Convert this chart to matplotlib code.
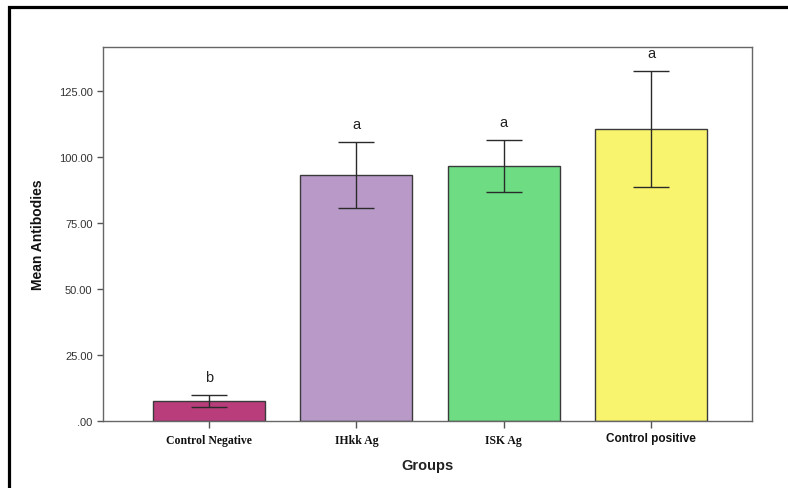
import matplotlib
matplotlib.use("Agg")
import matplotlib.pyplot as plt
from matplotlib.patches import Rectangle

categories = ["Control Negative", "IHkk Ag", "ISK Ag", "Control positive"]
means = [7.6, 93.2, 96.6, 110.6]
errors = [2.3, 12.5, 9.7, 22.0]
letters = ["b", "a", "a", "a"]
colors = ["#B93D7B", "#B899C8", "#6EDC82", "#F9F46E"]
yticks = [0, 25, 50, 75, 100, 125]
ytick_labels = [".00", "25.00", "50.00", "75.00", "100.00", "125.00"]

fig = plt.figure(figsize=(7.88, 4.89), dpi=100)
ax = fig.add_axes([103/788, 1-422/489, (752-103)/788, (422-48)/489])

x = list(range(len(categories)))
ax.bar(x, means, width=0.76, color=colors, edgecolor="#3a3a3a", linewidth=1.0, zorder=2)
ax.errorbar(x, means, yerr=errors, fmt="none", ecolor="#2a2a2a", elinewidth=1.0,
            capsize=13, capthick=1.0, zorder=3)
for xi, m, e, l in zip(x, means, errors, letters):
    ax.annotate(l, (xi, m + e), xytext=(0, 8), textcoords="offset points",
                ha="center", va="bottom", fontsize=10.5, color="#222222",
                fontfamily="Liberation Sans")

ax.set_xlim(-0.72, 3.686)
ax.set_ylim(0, 141.7)
ax.set_yticks(yticks)
ax.set_yticklabels(ytick_labels, fontsize=8, color="#333333", fontfamily="Liberation Sans")
ax.set_xticks(x)
ax.set_xticklabels([])
for xi, c in zip(x, categories):
    if c == "Control positive":
        ax.text(xi, -4.3, c, ha="center", va="top", fontsize=8.5, fontweight="bold",
                fontfamily="Liberation Sans", color="#111111")
    else:
        ax.text(xi, -4.8, c, ha="center", va="top", fontsize=8.5, fontweight="bold",
                fontfamily="Liberation Serif", color="#111111")

ax.tick_params(axis="both", direction="out", length=4, width=1, color="#555555")
ax.tick_params(axis="x", length=5)
for s in ax.spines.values():
    s.set_color("#666666")
    s.set_linewidth(1.0)

ax.set_xlabel("Groups", fontsize=10.5, fontweight="bold", fontfamily="Liberation Sans",
              color="#222222", labelpad=18)
ax.set_ylabel("Mean Antibodies", fontsize=10, fontweight="bold",
              fontfamily="Liberation Sans", fontstretch="condensed",
              color="#111111", labelpad=10)

border = Rectangle((9/788, -0.1), 1.2, 1.1 - 8/489, transform=fig.transFigure,
                   fill=False, edgecolor="black", linewidth=2.3, clip_on=False)
fig.patches.append(border)

fig.savefig("out.png", dpi=100)
